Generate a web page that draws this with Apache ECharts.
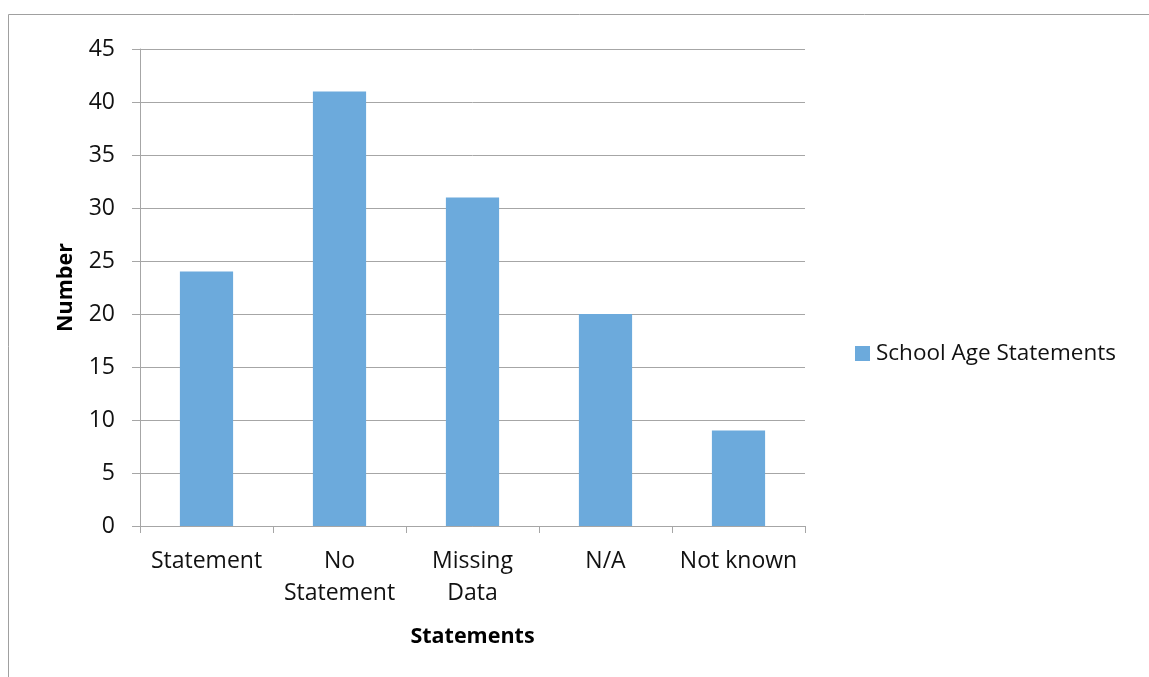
<!DOCTYPE html>
<html>
<head>
<meta charset="utf-8">
<script src="https://cdn.jsdelivr.net/npm/echarts@6/dist/echarts.min.js"></script>
<style>
html,body{margin:0;padding:0;background:#fff;}
#c{width:1149px;height:677px;}
</style>
</head>
<body>
<div id="c"></div>
<script>
const categories = ['Statement', 'No\nStatement', 'Missing\nData', 'N/A', 'Not known'];
const values = [24, 41, 31, 20, 9];
const seriesName = 'School Age Statements';
const xTitle = 'Statements';
const yTitle = 'Number';

const FONT = 'Open Sans';
const chart = echarts.init(document.getElementById('c'));
chart.setOption({
  animation: false,
  textStyle: { fontFamily: FONT },
  graphic: [{
    type: 'rect', silent: true,
    shape: { x: 8.5, y: 14.5, width: 1200, height: 700 },
    style: { fill: 'none', stroke: '#a0a0a0', lineWidth: 1 }
  }],
  grid: { left: 140, right: 344, top: 49, bottom: 151, containLabel: false },
  legend: {
    show: true, left: 850, top: 337, orient: 'vertical',
    itemWidth: 15, itemHeight: 15, itemGap: 6,
    icon: 'rect',
    textStyle: { fontFamily: FONT, fontSize: 22.5, color: '#111', padding: [0,0,0,1] },
    data: [seriesName]
  },
  xAxis: {
    type: 'category', data: categories,
    name: xTitle, nameLocation: 'middle', nameGap: 100,
    nameTextStyle: { fontFamily: FONT, fontSize: 21.5, fontWeight: 'bold', color: '#000' },
    axisLine: { lineStyle: { color: '#a6a6a6', width: 1 } },
    axisTick: { show: true, alignWithLabel: false, length: 7, lineStyle: { color: '#a6a6a6' } },
    axisLabel: { fontFamily: FONT, fontSize: 23, color: '#111', margin: 19, lineHeight: 32, interval: 0 },
    splitLine: { show: false }
  },
  yAxis: {
    type: 'value', min: 0, max: 45, interval: 5,
    name: yTitle, nameLocation: 'middle', nameGap: 63, nameRotate: 90,
    nameTextStyle: { fontFamily: FONT, fontSize: 21.5, fontWeight: 'bold', color: '#000' },
    axisLine: { show: true, lineStyle: { color: '#a6a6a6', width: 1 } },
    axisTick: { show: true, length: 8, lineStyle: { color: '#a6a6a6' } },
    axisLabel: { fontFamily: FONT, fontSize: 23, color: '#111', margin: 25 },
    splitLine: { show: true, lineStyle: { color: '#a6a6a6', width: 1 } }
  },
  series: [{
    name: seriesName, type: 'bar', data: values,
    barWidth: '40%',
    itemStyle: { color: '#6caadc' }
  }]
});
</script>
</body>
</html>
